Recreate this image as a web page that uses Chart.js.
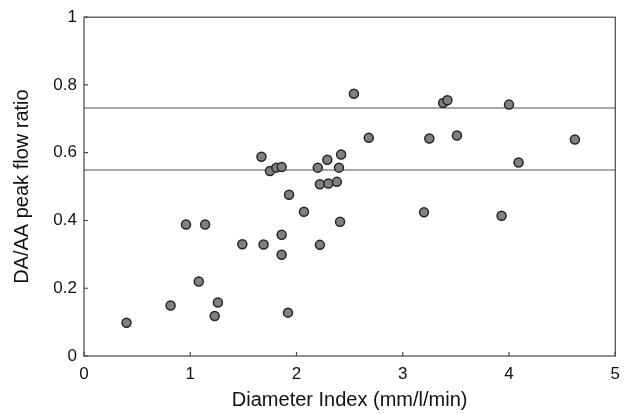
<!DOCTYPE html>
<html>
<head>
<meta charset="utf-8">
<script src="https://cdn.jsdelivr.net/npm/chart.js@4/dist/chart.umd.min.js"></script>
<style>
  html, body { margin: 0; padding: 0; background: #fff; }
  #wrap { width: 628px; height: 414px; }
</style>
</head>
<body>
<div id="wrap"><canvas id="chart"></canvas></div>
<script>
// ------------------------------
// Data
// ------------------------------
const diameterIndex = [0.40, 0.815, 0.96, 1.08, 1.14, 1.26, 1.23, 1.49, 1.69, 1.86, 1.86, 1.92, 1.93, 2.07,
    2.22, 2.41, 2.22, 2.30, 2.38, 1.67, 1.75, 1.81, 1.86, 2.20, 2.29, 2.40, 2.42, 2.54, 2.68, 3.25,
    3.51, 3.38, 3.42, 4.00, 4.09, 4.62, 3.20, 3.93];
const peakFlowRatio = [0.098, 0.149, 0.388, 0.22, 0.388, 0.158, 0.118, 0.33, 0.329, 0.358, 0.299, 0.128, 0.476, 0.426,
    0.328, 0.396, 0.507, 0.509, 0.514, 0.588, 0.546, 0.556, 0.558, 0.556, 0.579, 0.556, 0.595, 0.774, 0.644, 0.642,
    0.651, 0.747, 0.755, 0.742, 0.571, 0.639, 0.424, 0.414];

const refLineX = [0, 5];
const upperRefY = [0.732, 0.732];
const lowerRefY = [0.549, 0.549];

const xTicks = [0, 1, 2, 3, 4, 5];
const yTicks = [0, 0.2, 0.4, 0.6, 0.8, 1];

const toPoints = (xs, ys) => xs.map((x, i) => ({ x: x, y: ys[i] }));

// frame + small inward tick marks
const framePlugin = {
    id: "frame",
    afterDatasetsDraw(chart) {
        const { ctx, chartArea: a, scales } = chart;
        ctx.save();
        ctx.strokeStyle = "#444";
        ctx.lineWidth = 1.2;
        ctx.strokeRect(a.left, a.top, a.right - a.left, a.bottom - a.top);
        ctx.beginPath();
        yTicks.forEach(v => {
            const y = scales.y.getPixelForValue(v);
            ctx.moveTo(a.left, y);
            ctx.lineTo(a.left + 4, y);
        });
        xTicks.forEach(v => {
            const x = scales.x.getPixelForValue(v);
            ctx.moveTo(x, a.bottom);
            ctx.lineTo(x, a.bottom - 4);
        });
        ctx.stroke();
        ctx.restore();
    }
};

const font = "'Liberation Sans', Arial, sans-serif";
const fmt = v => String(Number(v.toFixed(1)));

new Chart(document.getElementById("chart"), {
    type: "scatter",
    data: {
        datasets: [
            {
                data: toPoints(diameterIndex, peakFlowRatio),
                pointRadius: 4.5,
                pointBackgroundColor: "#808080",
                pointBorderColor: "#262626",
                pointBorderWidth: 1.5
            },
            {
                type: "line",
                data: toPoints(refLineX, upperRefY),
                borderColor: "#555",
                borderWidth: 1.2,
                pointRadius: 0
            },
            {
                type: "line",
                data: toPoints(refLineX, lowerRefY),
                borderColor: "#555",
                borderWidth: 1.2,
                pointRadius: 0
            }
        ]
    },
    options: {
        responsive: true,
        maintainAspectRatio: false,
        animation: false,
        layout: { padding: { top: 16, right: 12, left: 0, bottom: 0 } },
        plugins: { legend: { display: false }, tooltip: { enabled: false } },
        scales: {
            x: {
                type: "linear",
                min: 0,
                max: 5,
                afterBuildTicks: s => { s.ticks = xTicks.map(v => ({ value: v })); },
                afterFit: s => { s.height = 58; },
                grid: { display: false, drawTicks: false },
                border: { display: false },
                ticks: { padding: 8, color: "#111", callback: fmt, font: { family: font, size: 17 } },
                title: {
                    display: true,
                    text: "Diameter Index (mm/l/min)",
                    color: "#111",
                    font: { family: font, size: 20 },
                    padding: { top: 0, bottom: 2 }
                }
            },
            y: {
                type: "linear",
                min: 0,
                max: 1,
                afterBuildTicks: s => { s.ticks = yTicks.map(v => ({ value: v })); },
                afterFit: s => { s.width = 84; },
                grid: { display: false, drawTicks: false },
                border: { display: false },
                ticks: { padding: 7, color: "#111", callback: fmt, font: { family: font, size: 17 } },
                title: {
                    display: true,
                    text: "DA/AA peak flow ratio",
                    color: "#111",
                    font: { family: font, size: 20 },
                    padding: { top: 10, bottom: 0 }
                }
            }
        }
    },
    plugins: [framePlugin]
});
</script>
</body>
</html>
